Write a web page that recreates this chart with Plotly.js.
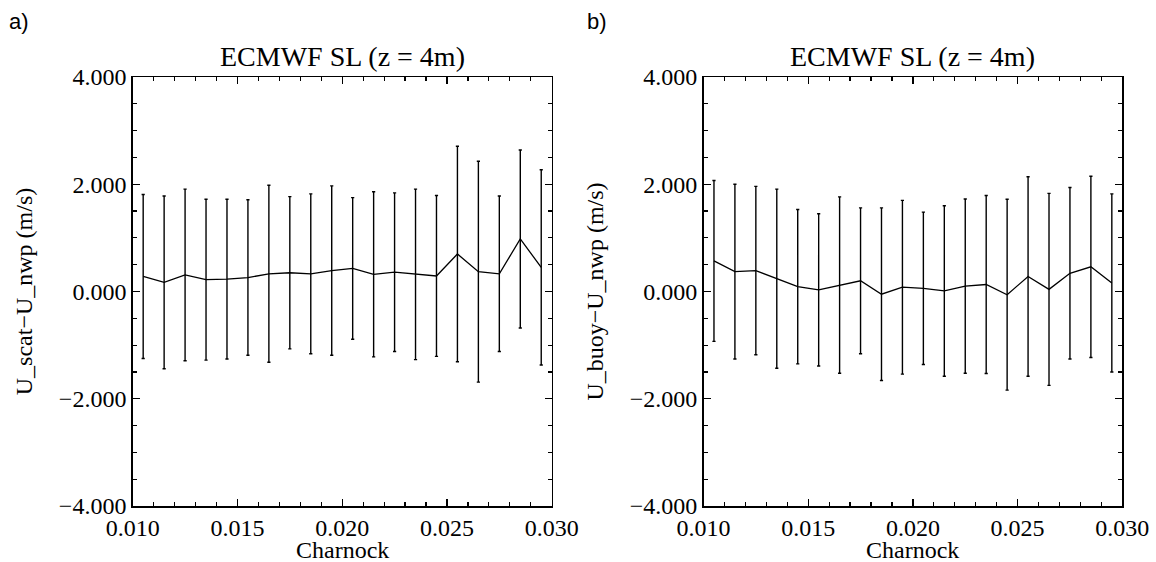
<!DOCTYPE html>
<html>
<head>
<meta charset="utf-8">
<script src="https://cdn.plot.ly/plotly-3.0.1.min.js"></script>
<style>html,body{margin:0;padding:0;background:#fff;}#chart{width:1156px;height:562px;}</style>
</head>
<body>
<div id="chart"></div>
<script>
// Charnock parameter bins
const charnock = [0.0105, 0.0115, 0.0125, 0.0135, 0.0145, 0.0155, 0.0165, 0.0175, 0.0185, 0.0195,
                  0.0205, 0.0215, 0.0225, 0.0235, 0.0245, 0.0255, 0.0265, 0.0275, 0.0285, 0.0295];
// Panel a) U_scat - U_nwp
const meanScat = [0.28, 0.17, 0.31, 0.22, 0.23, 0.26, 0.33, 0.35, 0.33, 0.39,
                  0.43, 0.32, 0.36, 0.32, 0.29, 0.70, 0.37, 0.33, 0.98, 0.45];
const sdScat   = [1.53, 1.61, 1.60, 1.50, 1.49, 1.45, 1.65, 1.42, 1.49, 1.58,
                  1.32, 1.54, 1.48, 1.59, 1.50, 2.01, 2.06, 1.45, 1.66, 1.82];
// Panel b) U_buoy - U_nwp
const meanBuoy = [0.57, 0.37, 0.39, 0.24, 0.09, 0.03, 0.12, 0.20, -0.05, 0.08,
                  0.06, 0.01, 0.10, 0.13, -0.06, 0.28, 0.04, 0.34, 0.46, 0.16];
const sdBuoy   = [1.50, 1.63, 1.57, 1.67, 1.44, 1.42, 1.645, 1.36, 1.61, 1.62,
                  1.42, 1.59, 1.625, 1.66, 1.78, 1.86, 1.79, 1.60, 1.69, 1.66];

const panelTitle = "ECMWF SL (z = 4m)";
const xTitle = "Charnock";
const yTitleA = "U_scat\u2212U_nwp (m/s)";
const yTitleB = "U_buoy\u2212U_nwp (m/s)";
const xTicks = [0.010, 0.015, 0.020, 0.025, 0.030];
const yTicks = [-4, -2, 0, 2, 4];

const serif = '"Liberation Serif", "Times New Roman", Times, serif';
const sans = '"Liberation Sans", Arial, Helvetica, sans-serif';
const W = 1156, H = 562;

function trace(y, sd, xa, ya) {
  return {
    x: charnock, y: y, xaxis: xa, yaxis: ya,
    type: 'scatter', mode: 'lines',
    line: {color: '#000', width: 1.3},
    error_y: {type: 'data', array: sd, visible: true, color: '#000', thickness: 1.4, width: 1.6},
    showlegend: false, hoverinfo: 'skip'
  };
}

function xaxis(domain, anchor) {
  return {
    domain: domain, anchor: anchor, range: [0.010, 0.030],
    tickvals: xTicks, tickformat: '.3f',
    ticks: 'inside', ticklen: 7, tickwidth: 1.2, tickcolor: '#000',
    minor: {dtick: 0.001, ticks: 'inside', ticklen: 4, tickwidth: 1.2, tickcolor: '#000'},
    showline: true, linecolor: '#000', linewidth: 1.5, mirror: 'ticks',
    showgrid: false, zeroline: false,
    tickfont: {family: serif, size: 24, color: '#000'},
    fixedrange: true
  };
}
function yaxis(domain, anchor, title) {
  return {
    domain: domain, anchor: anchor, range: [-4, 4],
    tickvals: yTicks, tickformat: '.3f',
    ticks: 'inside', ticklen: 7, tickwidth: 1.2, tickcolor: '#000',
    minor: {dtick: 0.5, ticks: 'inside', ticklen: 4, tickwidth: 1.2, tickcolor: '#000'},
    showline: true, linecolor: '#000', linewidth: 1.5, mirror: 'ticks',
    showgrid: false, zeroline: false,
    tickfont: {family: serif, size: 24, color: '#000'},
    title: {text: title, font: {family: serif, size: 24, color: '#000'}, standoff: 19},
    fixedrange: true
  };
}

const yDom = [(H - 506) / H, (H - 77) / H];
const xDomA = [132.7 / W, 551.7 / W];
const xDomB = [703.5 / W, 1122.3 / W];

const data = [
  trace(meanScat, sdScat, 'x', 'y'),
  trace(meanBuoy, sdBuoy, 'x2', 'y2')
];

function ann(text, x, yPx, anchorY, font) {
  return {text: text, xref: 'paper', yref: 'paper', x: x, y: 1 - yPx / H,
          xanchor: 'center', yanchor: anchorY, showarrow: false, borderpad: 0, font: font};
}
const titleFont = {family: serif, size: 28, color: '#000'};
const axFont = {family: serif, size: 24, color: '#000'};
const lblFont = {family: sans, size: 22, color: '#000'};

const layout = {
  width: W, height: H,
  margin: {l: 0, r: 0, t: 0, b: 0},
  paper_bgcolor: '#fff', plot_bgcolor: '#fff',
  font: {family: serif, color: '#000'},
  xaxis: xaxis(xDomA, 'y'),
  yaxis: yaxis(yDom, 'x', yTitleA),
  xaxis2: xaxis(xDomB, 'y2'),
  yaxis2: yaxis(yDom, 'x2', yTitleB),
  annotations: [
    ann(panelTitle, (xDomA[0] + xDomA[1]) / 2, 73, 'bottom', titleFont),
    ann(panelTitle, (xDomB[0] + xDomB[1]) / 2, 73, 'bottom', titleFont),
    ann(xTitle, (xDomA[0] + xDomA[1]) / 2, 536, 'top', axFont),
    ann(xTitle, (xDomB[0] + xDomB[1]) / 2, 536, 'top', axFont),
    ann('a)', 19 / W, 8, 'top', lblFont),
    ann('b)', 597 / W, 8, 'top', lblFont)
  ]
};

Plotly.newPlot('chart', data, layout, {staticPlot: true, displayModeBar: false});
</script>
</body>
</html>
